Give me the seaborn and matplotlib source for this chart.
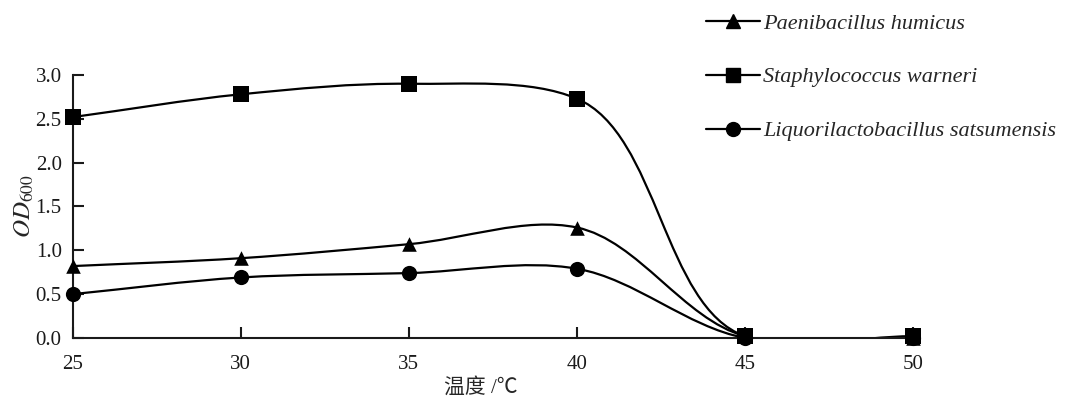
import numpy as np
import matplotlib
matplotlib.use("Agg")
import matplotlib.pyplot as plt
from matplotlib.path import Path
from matplotlib.patches import PathPatch
from matplotlib.lines import Line2D
import seaborn as sns

# OD600 values
temps = [25, 30, 35, 40, 45, 50]
paeni = [0.82, 0.91, 1.07, 1.26, 0.02, 0.0]
staph = [2.52, 2.78, 2.90, 2.73, 0.02, 0.02]
liquo = [0.50, 0.69, 0.74, 0.79, 0.0, 0.0]

names = ["Paenibacillus humicus", "Staphylococcus warneri",
         "Liquorilactobacillus satsumensis"]
markers = ["^", "s", "o"]

sns.set_style("ticks")
plt.rcParams["font.family"] = ["Liberation Serif", "Noto Sans CJK SC"]
plt.rcParams["mathtext.fontset"] = "stix"


def smooth_path(ax, x, y):
    # chordal catmull-rom spline, built in screen space, as bezier segments
    pts = ax.transData.transform(np.column_stack([x, y]).astype(float))
    n = len(pts)
    d = np.linalg.norm(np.diff(pts, axis=0), axis=1)
    tang = []
    for i in range(n):
        if i == 0:
            tang.append((pts[1] - pts[0]) / d[0])
        elif i == n - 1:
            tang.append((pts[-1] - pts[-2]) / d[-1])
        else:
            tang.append((pts[i] - pts[i - 1]) / d[i - 1]
                        - (pts[i + 1] - pts[i - 1]) / (d[i - 1] + d[i])
                        + (pts[i + 1] - pts[i]) / d[i])
    verts = [pts[0]]
    codes = [Path.MOVETO]
    for i in range(n - 1):
        c1 = pts[i] + tang[i] * d[i] / 3
        c2 = pts[i + 1] - tang[i + 1] * d[i] / 3
        verts += [c1, c2, pts[i + 1]]
        codes += [Path.CURVE4] * 3
    verts = ax.transData.inverted().transform(np.array(verts))
    return Path(verts, codes)


fig = plt.figure(figsize=(10.71, 3.99), dpi=100)
ax = fig.add_axes([0.068, 0.153, 0.7845, 0.659])
ax.set_xlim(25, 50)
ax.set_ylim(0, 3.0)

series = [paeni, liquo, staph]
order_markers = ["^", "o", "s"]
sizes = {"^": 110, "o": 120, "s": 130}
for vals, mk in zip(series, order_markers):
    ax.add_patch(PathPatch(smooth_path(ax, temps, vals), facecolor="none",
                           edgecolor="black", lw=1.6, zorder=2))
    sns.scatterplot(x=temps, y=vals, marker=mk, color="black",
                    s=sizes[mk], edgecolor="black",
                    linewidth=0, ax=ax, zorder=3, clip_on=False)

ax.set_xticks(temps)
ax.set_yticks(np.arange(0, 3.01, 0.5))
ax.set_yticklabels([f"{v:.1f}" for v in np.arange(0, 3.01, 0.5)])
sns.despine(ax=ax)
for s in ["left", "bottom"]:
    ax.spines[s].set_linewidth(1.5)
    ax.spines[s].set_color("#1a1a1a")
ax.tick_params(direction="in", length=8, width=1.5, labelsize=15,
               colors="#1a1a1a", labelcolor="#1a1a1a")
ax.tick_params(axis="x", pad=12)
ax.tick_params(axis="y", pad=8)

ax.set_xlabel("温度 /℃", fontsize=15)
ax.xaxis.set_label_coords(0.486, -0.152)
ax.set_ylabel(r"$OD_{600}$", fontsize=18, labelpad=0)

handles = [Line2D([0], [0], color="black", lw=1.6, marker=m, markersize=10)
           for m in markers]
fig.legend(handles, names, loc="upper left", bbox_to_anchor=(0.643, 1.012),
           frameon=False, handlelength=2.4, labelspacing=1.5, borderpad=0.3,
           handletextpad=0.15,
           prop={"family": "Liberation Serif", "style": "italic", "size": 16})

fig.savefig("out.png", dpi=100)
